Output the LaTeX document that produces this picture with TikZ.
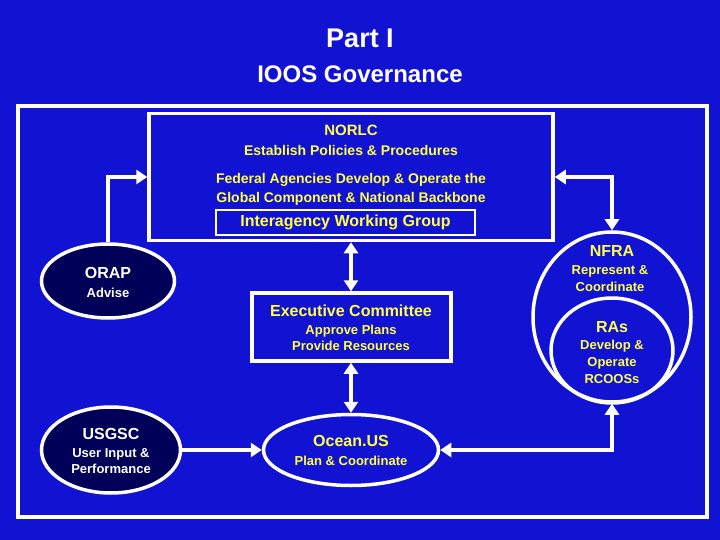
\documentclass[tikz,border=0pt]{standalone}
\usepackage{fontspec}
\setmainfont{Liberation Sans}
\usetikzlibrary{arrows.meta,shapes.geometric}
\definecolor{bg}{HTML}{1212D2}
\definecolor{navy}{HTML}{000058}
\definecolor{yel}{HTML}{FFFF4A}
\tikzset{
  box/.style={draw=white,line width=3.5pt,inner sep=0pt},
  oval/.style={ellipse,draw=white,line width=3.5pt,inner sep=0pt},
  ytxt/.style={text=yel,font=\bfseries\fontsize{13}{15}\selectfont,align=center},
  htxt/.style={text=yel,font=\bfseries\fontsize{16}{18}\selectfont,align=center},
  conn/.style={draw=white,line width=4.5pt,-{Triangle[length=11pt,width=14pt]}},
  dconn/.style={draw=white,line width=4.5pt,{Triangle[length=11pt,width=14pt]}-{Triangle[length=11pt,width=14pt]}},
}
\begin{document}
\begin{tikzpicture}[x=1pt,y=-1pt]
\fill[bg] (0,0) rectangle (720,540);
\useasboundingbox (0,0) rectangle (720,540);
\node[text=white,font=\bfseries\fontsize{27}{30}\selectfont] (t1) at (360,38) {Part I};
\node[text=white,font=\bfseries\fontsize{24}{28}\selectfont] (t2) at (360,74) {IOOS Governance};
\draw[white,line width=4pt] (18,106) rectangle (707,517);
% NORLC box
\node[box,minimum width=404pt,minimum height=127pt] (norlc) at (351,177) {};
\node[htxt,font=\bfseries\fontsize{15}{17}\selectfont] (n1) at (351,130) {NORLC};
\node[ytxt,font=\bfseries\fontsize{14}{16}\selectfont] (n2) at (351,150) {Establish Policies \& Procedures};
\node[ytxt,font=\bfseries\fontsize{14}{19}\selectfont] (n3) at (351,189) {Federal Agencies Develop \& Operate the\\Global Component \& National Backbone};
\node[box,line width=2.5pt,minimum width=259pt,minimum height=25pt] (iwg) at (345.5,222.5) {};
\node[htxt] (iwgt) at (345.5,222) {Interagency Working Group};
% ORAP
\node[oval,fill=navy,minimum width=133pt,minimum height=74pt] (orap) at (108,281) {};
\node[text=white,font=\bfseries\fontsize{16}{18}\selectfont] at (108,273) {ORAP};
\node[text=white,font=\bfseries\fontsize{13}{15}\selectfont] at (108,293) {Advise};
% Executive committee
\node[box,minimum width=199pt,minimum height=68pt] (exec) at (351.5,327) {};
\node[htxt] at (351,311) {Executive Committee};
\node[ytxt,font=\bfseries\fontsize{13}{16}\selectfont] at (351,338) {Approve Plans\\Provide Resources};
% USGSC
\node[oval,fill=navy,minimum width=139pt,minimum height=86pt] (usgsc) at (111,450) {};
\node[text=white,font=\bfseries\fontsize{16}{18}\selectfont] at (111,434) {USGSC};
\node[text=white,font=\bfseries\fontsize{13}{16}\selectfont,align=center] at (111,461) {User Input \&\\Performance};
% OceanUS
\node[oval,minimum width=175pt,minimum height=71pt] (ocean) at (351,450) {};
\node[htxt] at (351,441) {Ocean.US};
\node[ytxt] at (351,461) {Plan \& Coordinate};
% NFRA and RAs
\node[oval,minimum width=158pt,minimum height=170pt] (nfra) at (612,317) {};
\node[oval,minimum width=122pt,minimum height=105pt] (ras) at (612,350.5) {};
\node[htxt] at (612,251) {NFRA};
\node[ytxt,font=\bfseries\fontsize{13}{17}\selectfont] at (610,278.5) {Represent \&\\Coordinate};
\node[htxt] at (612,327) {RAs};
\node[ytxt,font=\bfseries\fontsize{13}{17}\selectfont] at (612,362) {Develop \&\\Operate\\RCOOSs};
% connectors
\draw[conn] (orap.north) |- (norlc.west |- 0,177);
\draw[dconn] (norlc.south -| 351,0) -- (exec.north -| 351,0);
\draw[dconn] (exec.south -| 351,0) -- (ocean.north);
\draw[conn] (usgsc.east) -- (ocean.west);
\draw[dconn] (ocean.east) -| (nfra.south);
\draw[dconn] (norlc.east |- 0,177) -| (nfra.north);
\end{tikzpicture}
\end{document}
